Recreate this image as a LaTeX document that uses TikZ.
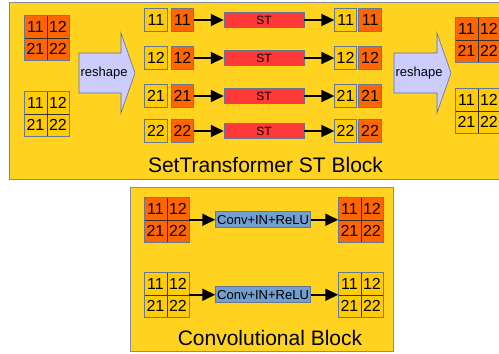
\documentclass[tikz,border=0pt]{standalone}
\usepackage{fontspec}
\setmainfont{Liberation Sans}
\usepackage{tikz}
\usetikzlibrary{arrows.meta, positioning}

\definecolor{blockyellow}{RGB}{255,211,32}
\definecolor{blockedge}{RGB}{130,140,155}
\definecolor{cellyellow}{RGB}{255,204,0}
\definecolor{cellorange}{RGB}{255,102,0}
\definecolor{celledge}{RGB}{100,120,145}
\definecolor{stred}{RGB}{255,56,56}
\definecolor{convblue}{RGB}{114,159,207}
\definecolor{lavender}{RGB}{204,204,255}
\definecolor{lavedge}{RGB}{90,110,170}

% 2x2 grid of cells, #2,#3 = centre of the top-left cell
\newcommand{\cellgrid}[4]{%
  \node[cell, fill=#4] (#1-11) at (#2,#3) {11};
  \node[cell, fill=#4, right=0pt of #1-11] (#1-12) {12};
  \node[cell, fill=#4, below=0pt of #1-11] (#1-21) {21};
  \node[cell, fill=#4, right=0pt of #1-21] (#1-22) {22};
  \draw[frame] (#1-11.north west) rectangle (#1-22.south east);
}

\begin{document}
\begin{tikzpicture}[x=1pt, y=-1pt]
		\tikzstyle{cell} = [rectangle, draw=black!80, line width=0.5pt, minimum width=22.5pt, minimum height=22.5pt, inner sep=0pt, outer sep=0pt, font=\fontsize{16}{16}\selectfont]
		\tikzstyle{frame} = [draw=celledge, line width=0.8pt]
		\tikzstyle{single} = [cell, draw=celledge, line width=0.8pt]
		\tikzstyle{block} = [draw=blockedge, line width=0.8pt, fill=blockyellow]
		\tikzstyle{stbox} = [rectangle, draw=celledge, line width=0.6pt, fill=stred, minimum width=80pt, minimum height=15pt, inner sep=0pt, font=\fontsize{12}{12}\selectfont]
		\tikzstyle{convbox} = [rectangle, draw=celledge, line width=0.6pt, fill=convblue, minimum width=95pt, minimum height=16pt, inner sep=0pt, font=\fontsize{13}{13}\selectfont]
		\tikzstyle{reshape} = [draw=lavedge, line width=0.6pt, fill=lavender]
		\tikzstyle{line} = [draw, line width=1.8pt, -{Triangle[length=13pt, width=12pt]}]
		\tikzstyle{title} = [anchor=base, inner sep=0pt, font=\fontsize{21}{21}\selectfont]

		\useasboundingbox (0,0) rectangle (499,354);

		\draw[block] (9,2) rectangle (510,179);
		\draw[block] (130,187) rectangle (393,351);

		\cellgrid{inA}{35.5}{26.5}{cellorange}
		\cellgrid{inB}{35.5}{102.5}{cellyellow}
		\cellgrid{outA}{466.5}{28.5}{cellorange}
		\cellgrid{outB}{466.5}{99.5}{cellyellow}

		\draw[reshape] (79,53) -- (121,53) -- (121,33) -- (135,73) -- (121,113) -- (121,93) -- (79,93) -- cycle;
		\node [font=\fontsize{13}{13}\selectfont] (reshapeL) at (104,73) {reshape};
		\draw[reshape] (394,53) -- (437,53) -- (437,33) -- (451,73) -- (437,113) -- (437,93) -- (394,93) -- cycle;
		\node [font=\fontsize{13}{13}\selectfont] (reshapeR) at (419,73) {reshape};

		\foreach \lbl/\y in {11/20, 12/58, 21/96, 22/131} {
			\node [single, fill=cellyellow] (left\lbl) at (156,\y) {\lbl};
			\node [single, fill=cellorange, right=4pt of left\lbl] (mid\lbl) {\lbl};
			\node [stbox, right=30pt of mid\lbl] (st\lbl) {ST};
			\node [single, fill=cellyellow, right=30pt of st\lbl] (right\lbl) {\lbl};
			\node [single, fill=cellorange, right=2pt of right\lbl] (out\lbl) {\lbl};
			\path [line] (mid\lbl) -- (st\lbl);
			\path [line] (st\lbl) -- (right\lbl);
		}

		\node [title] (sttitle) at (265.5,172) {SetTransformer ST Block};

		\cellgrid{convinA}{155.5}{208.5}{cellorange}
		\cellgrid{convinB}{155.5}{283.5}{cellyellow}
		\cellgrid{convoutA}{349.5}{208.5}{cellorange}
		\cellgrid{convoutB}{349.5}{283.5}{cellyellow}

		\node [convbox, right=26pt of convinA-12.south east] (convA) {Conv+IN+ReLU};
		\node [convbox, right=26pt of convinB-12.south east] (convB) {Conv+IN+ReLU};
		\path [line] (convinA-12.south east) -- (convA);
		\path [line] (convA) -- (convoutA-11.south west);
		\path [line] (convinB-12.south east) -- (convB);
		\path [line] (convB) -- (convoutB-11.south west);

		\node [title] (convtitle) at (270,345) {Convolutional Block};
	\end{tikzpicture}
\end{document}
